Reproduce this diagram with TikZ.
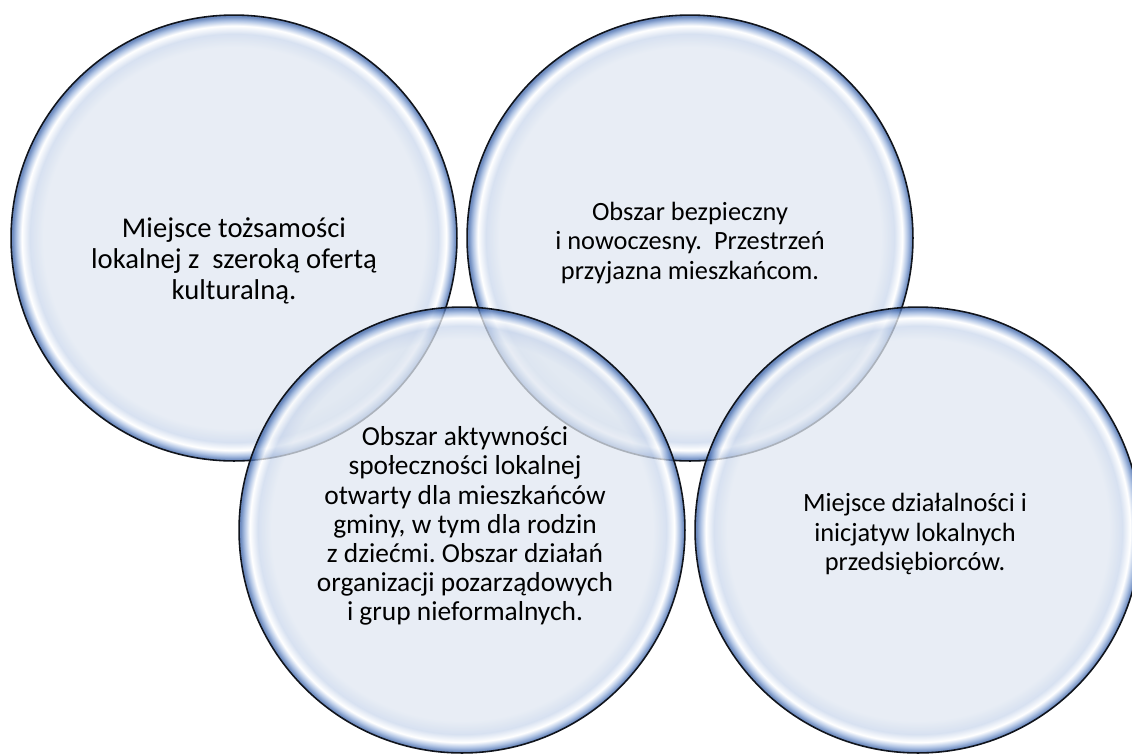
\documentclass[tikz,border=0pt]{standalone}
\usepackage{fontspec}
\setmainfont{Carlito}
\usetikzlibrary{shadings}
\definecolor{bubIn}{HTML}{E0E7F1}
\definecolor{bubMid}{HTML}{CAD7EC}
\definecolor{bubGlow}{HTML}{FFFFFF}
\definecolor{bubBand}{HTML}{93AEDA}
\definecolor{bubDeep}{HTML}{3A62A8}
\definecolor{bubLine}{HTML}{10141C}
\pgfdeclareradialshading{bubble}{\pgfpointorigin}{color(0bp)=(bubIn); color(21.4bp)=(bubIn); color(22.9bp)=(bubMid); color(23.8bp)=(bubGlow); color(24.4bp)=(bubBand); color(24.85bp)=(bubDeep); color(25bp)=(bubDeep); color(50bp)=(bubDeep)}

\begin{document}
\frenchspacing
\begin{tikzpicture}[x=0.02cm,y=-0.02cm,
    bub/.style={circle,draw=bubLine,line width=0.9pt,shading=bubble,fill opacity=0.75,minimum size=8.92cm,inner sep=0pt},
    bubtext/.style={align=center,text=black,font=\fontsize{15}{16.6}\selectfont}]
  % \clip (0,0) rectangle (1132,755);
  \useasboundingbox (0,0) rectangle (1132,755);
  \node[bub] (kultura) at (234,238) {};
  \node[bub] (bezpieczenstwo) at (690,238) {};
  \node[bub] (aktywnosc) at (462,530) {};
  \node[bub] (przedsiebiorcy) at (918,530) {};
  \node[bubtext,font=\fontsize{16.3}{17.6}\selectfont] (tKultura) at (234,261) {Miejsce tożsamości\\lokalnej z~ szeroką ofertą\\kulturalną.};
  \node[bubtext] (tBezpieczenstwo) at (690,243) {Obszar bezpieczny\\i nowoczesny.~ Przestrzeń\\przyjazna mieszkańcom.};
  \node[bubtext,font=\fontsize{15.6}{16.6}\selectfont] (tAktywnosc) at (465,526) {Obszar aktywności\\społeczności lokalnej\\otwarty dla mieszkańców\\gminy, w tym dla rodzin\\z dziećmi. Obszar działań\\organizacji pozarządowych\\i grup nieformalnych.};
  \node[bubtext] (tPrzedsiebiorcy) at (915,534) {Miejsce działalności i\\inicjatyw lokalnych\\przedsiębiorców.};
\end{tikzpicture}
\end{document}
